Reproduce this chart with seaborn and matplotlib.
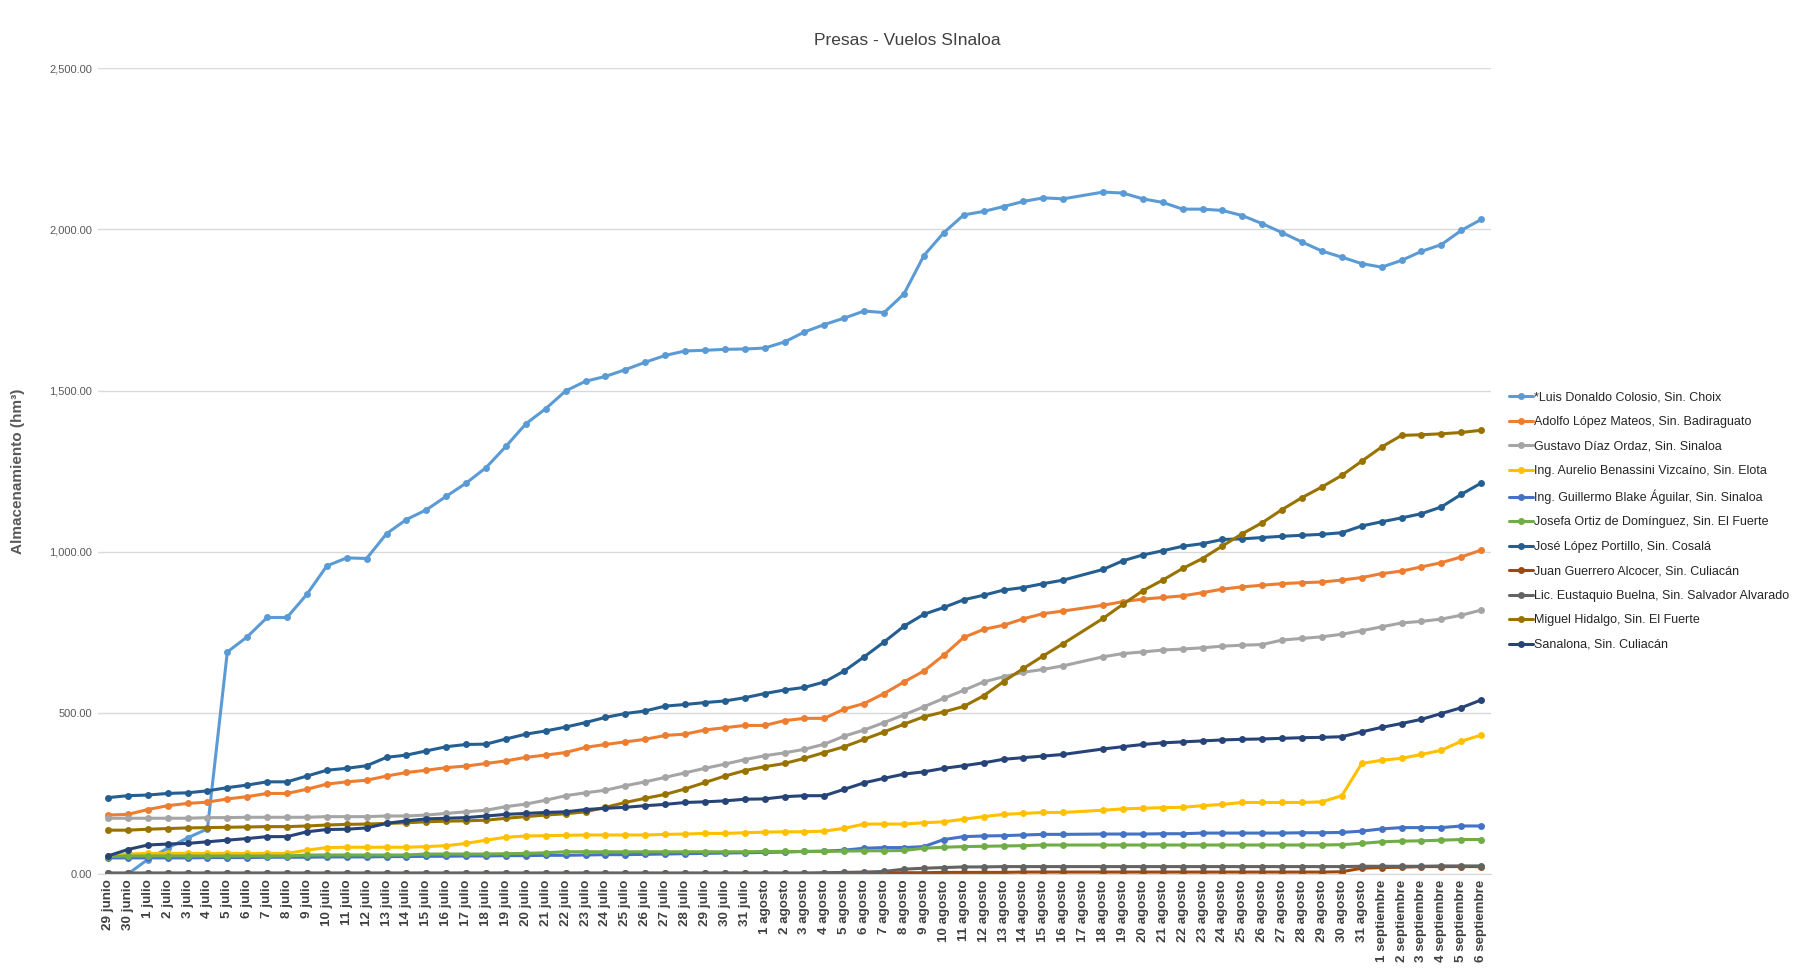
import numpy as np
import pandas as pd
import matplotlib
matplotlib.use("Agg")
import matplotlib.pyplot as plt
import seaborn as sns

# fechas (eje x): 29 junio - 6 septiembre
dias = (["29 junio", "30 junio"]
        + [f"{d} julio" for d in range(1, 32)]
        + [f"{d} agosto" for d in range(1, 32)]
        + [f"{d} septiembre" for d in range(1, 7)])

presas = [
    "*Luis Donaldo Colosio, Sin. Choix",
    "Adolfo López Mateos, Sin. Badiraguato",
    "Gustavo Díaz Ordaz, Sin. Sinaloa",
    "Ing. Aurelio Benassini Vizcaíno, Sin. Elota",
    "Ing. Guillermo Blake Águilar, Sin. Sinaloa",
    "Josefa Ortiz de Domínguez, Sin. El Fuerte",
    "José López Portillo, Sin. Cosalá",
    "Juan Guerrero Alcocer, Sin. Culiacán",
    "Lic. Eustaquio Buelna, Sin. Salvador Alvarado",
    "Miguel Hidalgo, Sin. El Fuerte",
    "Sanalona, Sin. Culiacán",
]
colores = ["#5B9BD5", "#ED7D31", "#A5A5A5", "#FFC000", "#4472C4", "#70AD47",
           "#255E91", "#9E480E", "#636363", "#997300", "#264478"]

nan = np.nan  # 17 agosto sin dato

colosio = [0, 0, 45, 80, 112, 140, 689, 736, 796, 796, 868, 956, 981, 979, 1056, 1100,
           1130, 1172, 1213, 1261, 1327, 1397, 1444, 1499, 1529, 1544, 1565, 1588, 1609, 1623, 1625, 1628,
           1629, 1632, 1651, 1682, 1705, 1725, 1747, 1742, 1800, 1919, 1990, 2045, 2056, 2071, 2087, 2098,
           2095, nan, 2116, 2113, 2095, 2084, 2063, 2063, 2059, 2043, 2018, 1990, 1961, 1933, 1914, 1894,
           1883, 1904, 1932, 1953, 1997, 2031]
lopez_mateos = [183, 185, 200, 212, 219, 223, 233, 240, 250, 250, 263, 279, 286, 291, 304, 315,
                322, 330, 335, 343, 351, 362, 369, 377, 393, 402, 410, 418, 430, 434, 447, 454,
                461, 461, 476, 483, 483, 512, 529, 560, 596, 630, 679, 734, 759, 772, 792, 808,
                816, nan, 834, 845, 853, 858, 863, 873, 884, 891, 896, 901, 904, 906, 912, 920,
                932, 940, 953, 966, 984, 1005]
diaz_ordaz = [173, 173, 173, 173, 173, 175, 175, 176, 176, 176, 176, 178, 178, 178, 180, 180,
              183, 188, 193, 198, 209, 217, 229, 243, 252, 260, 274, 286, 300, 314, 328, 341,
              355, 367, 376, 387, 403, 428, 447, 470, 494, 519, 545, 570, 596, 612, 626, 635,
              646, nan, 674, 684, 689, 695, 698, 702, 707, 710, 712, 726, 731, 736, 744, 755,
              767, 779, 784, 791, 803, 819]
benassini = [56, 62, 64, 64, 64, 64, 64, 64, 64, 64, 74, 82, 83, 83, 83, 83,
             85, 88, 95, 105, 114, 118, 119, 120, 121, 121, 121, 121, 123, 124, 126, 126,
             128, 130, 131, 131, 133, 142, 155, 155, 155, 159, 162, 170, 178, 185, 188, 191,
             191, nan, 198, 202, 204, 206, 207, 212, 216, 222, 222, 222, 222, 224, 243, 343,
             353, 359, 371, 384, 412, 431]
blake = [50, 50, 50, 50, 50, 51, 51, 51, 52, 52, 52, 53, 53, 53, 54, 54,
         55, 55, 56, 56, 57, 57, 58, 58, 59, 60, 60, 61, 62, 63, 64, 65,
         66, 67, 68, 70, 71, 74, 80, 82, 82, 85, 107, 116, 118, 119, 121, 123,
         123, nan, 124, 124, 124, 125, 125, 127, 127, 127, 127, 127, 128, 128, 129, 133,
         140, 144, 144, 144, 149, 149]
ortiz = [54, 56, 56, 56, 56, 56, 56, 56, 56, 56, 59, 59, 59, 59, 59, 59,
         62, 62, 62, 62, 63, 64, 66, 69, 69, 69, 69, 69, 69, 69, 69, 69,
         69, 70, 70, 70, 70, 71, 72, 72, 73, 80, 83, 85, 86, 87, 88, 90,
         90, nan, 90, 90, 90, 90, 90, 90, 90, 90, 90, 90, 90, 90, 91, 95,
         100, 102, 103, 105, 107, 107]
lopez_portillo = [237, 243, 245, 250, 252, 258, 268, 276, 286, 286, 304, 322, 328, 336, 362, 369,
                  382, 395, 402, 403, 419, 434, 444, 456, 470, 486, 498, 506, 521, 526, 532, 537,
                  547, 560, 571, 579, 596, 630, 674, 720, 769, 806, 827, 851, 865, 881, 889, 901,
                  912, nan, 945, 972, 990, 1003, 1017, 1025, 1038, 1040, 1044, 1048, 1051, 1054, 1059, 1080,
                  1093, 1105, 1118, 1139, 1178, 1213]
guerrero = [2, 2, 2, 2, 2, 2, 2, 2, 2, 2, 2, 2, 2, 2, 2, 2,
            2, 2, 2, 2, 2, 2, 2, 2, 2, 2, 2, 2, 2, 2, 2, 2,
            2, 2, 2, 2, 2, 3, 3, 4, 4, 4, 5, 5, 5, 5, 6, 6,
            6, nan, 6, 6, 6, 6, 6, 6, 6, 6, 6, 6, 6, 6, 7, 18,
            20, 21, 23, 23, 23, 23]
buelna = [3, 3, 3, 3, 3, 3, 3, 3, 3, 3, 3, 3, 3, 3, 3, 3,
          3, 3, 3, 3, 3, 3, 3, 3, 3, 3, 3, 3, 3, 3, 3, 3,
          3, 3, 3, 3, 4, 5, 6, 8, 15, 18, 20, 22, 22, 23, 23, 23,
          23, nan, 23, 23, 23, 23, 23, 23, 23, 23, 23, 23, 23, 23, 23, 24,
          24, 24, 24, 25, 25, 25]
hidalgo = [136, 136, 139, 141, 143, 144, 145, 146, 147, 147, 149, 152, 154, 155, 157, 159,
           162, 164, 165, 167, 173, 178, 183, 187, 193, 207, 222, 235, 247, 264, 284, 304,
           321, 333, 343, 359, 377, 395, 418, 441, 465, 488, 503, 520, 553, 597, 638, 677,
           715, nan, 793, 837, 879, 912, 948, 979, 1018, 1056, 1090, 1131, 1168, 1201, 1237, 1281,
           1325, 1361, 1363, 1366, 1370, 1377]
sanalona = [56, 76, 90, 93, 95, 100, 105, 110, 116, 116, 131, 138, 139, 143, 157, 165,
            171, 173, 175, 180, 185, 188, 191, 193, 200, 204, 207, 212, 216, 222, 224, 227,
            232, 233, 240, 243, 243, 263, 283, 297, 310, 317, 328, 336, 345, 356, 361, 366,
            371, nan, 388, 395, 402, 407, 410, 413, 416, 418, 419, 421, 423, 424, 426, 441,
            455, 467, 480, 498, 516, 540]

series = [colosio, lopez_mateos, diaz_ordaz, benassini, blake, ortiz,
          lopez_portillo, guerrero, buelna, hidalgo, sanalona]

filas = []
for nombre, vals in zip(presas, series):
    for i, v in enumerate(vals):
        filas.append({"dia": i, "presa": nombre, "valor": v})
df = pd.DataFrame(filas).dropna()

sns.set_style("white")
plt.rcParams["font.family"] = ["Liberation Sans", "DejaVu Sans"]
narrow = ["Liberation Sans Narrow", "Liberation Sans", "DejaVu Sans"]
gris = "#595959"

fig = plt.figure(figsize=(18.14, 9.76), dpi=100)
ax = fig.add_axes([0.054, 0.1045, 0.768, 0.8255])

sns.lineplot(data=df, x="dia", y="valor", hue="presa", hue_order=presas,
             palette=colores, marker="o", markersize=5, markeredgewidth=0,
             linewidth=2.2, estimator=None, legend=True, ax=ax)

ax.set_xlim(-0.5, len(dias) - 0.5)
ax.set_ylim(0, 2500)
ax.set_yticks(np.arange(0, 2501, 500))
ax.set_yticklabels([f"{v:,.2f}" for v in np.arange(0, 2501, 500)],
                   family=narrow, fontsize=8, color=gris)
ax.set_xticks(range(len(dias)))
ax.set_xticklabels(dias, rotation=90, fontsize=9.6, fontweight="bold", color="#404040")
ax.tick_params(axis="both", length=0, pad=4)
ax.grid(axis="y", color="#D9D9D9", linewidth=1)
ax.set_axisbelow(True)
for s in ["top", "right", "left"]:
    ax.spines[s].set_visible(False)
ax.spines["bottom"].set_color("#D9D9D9")

ax.set_xlabel("")
ax.set_ylabel("Almacenamiento (hm³)", fontsize=11, fontweight="bold", color=gris, labelpad=18)

fig.text(0.5, 0.959, "Presas - Vuelos SInaloa", ha="center", va="center",
         family=narrow, fontsize=12.5, color="#404040")

handles, labels = ax.get_legend_handles_labels()
ax.get_legend().remove()
fig.legend(handles, labels, loc="upper left", bbox_to_anchor=(0.829, 0.604),
           frameon=False, fontsize=9, labelspacing=1.0, handlelength=1.9,
           handletextpad=0.1, borderaxespad=0)

fig.savefig("out.png", dpi=100, facecolor="white")
